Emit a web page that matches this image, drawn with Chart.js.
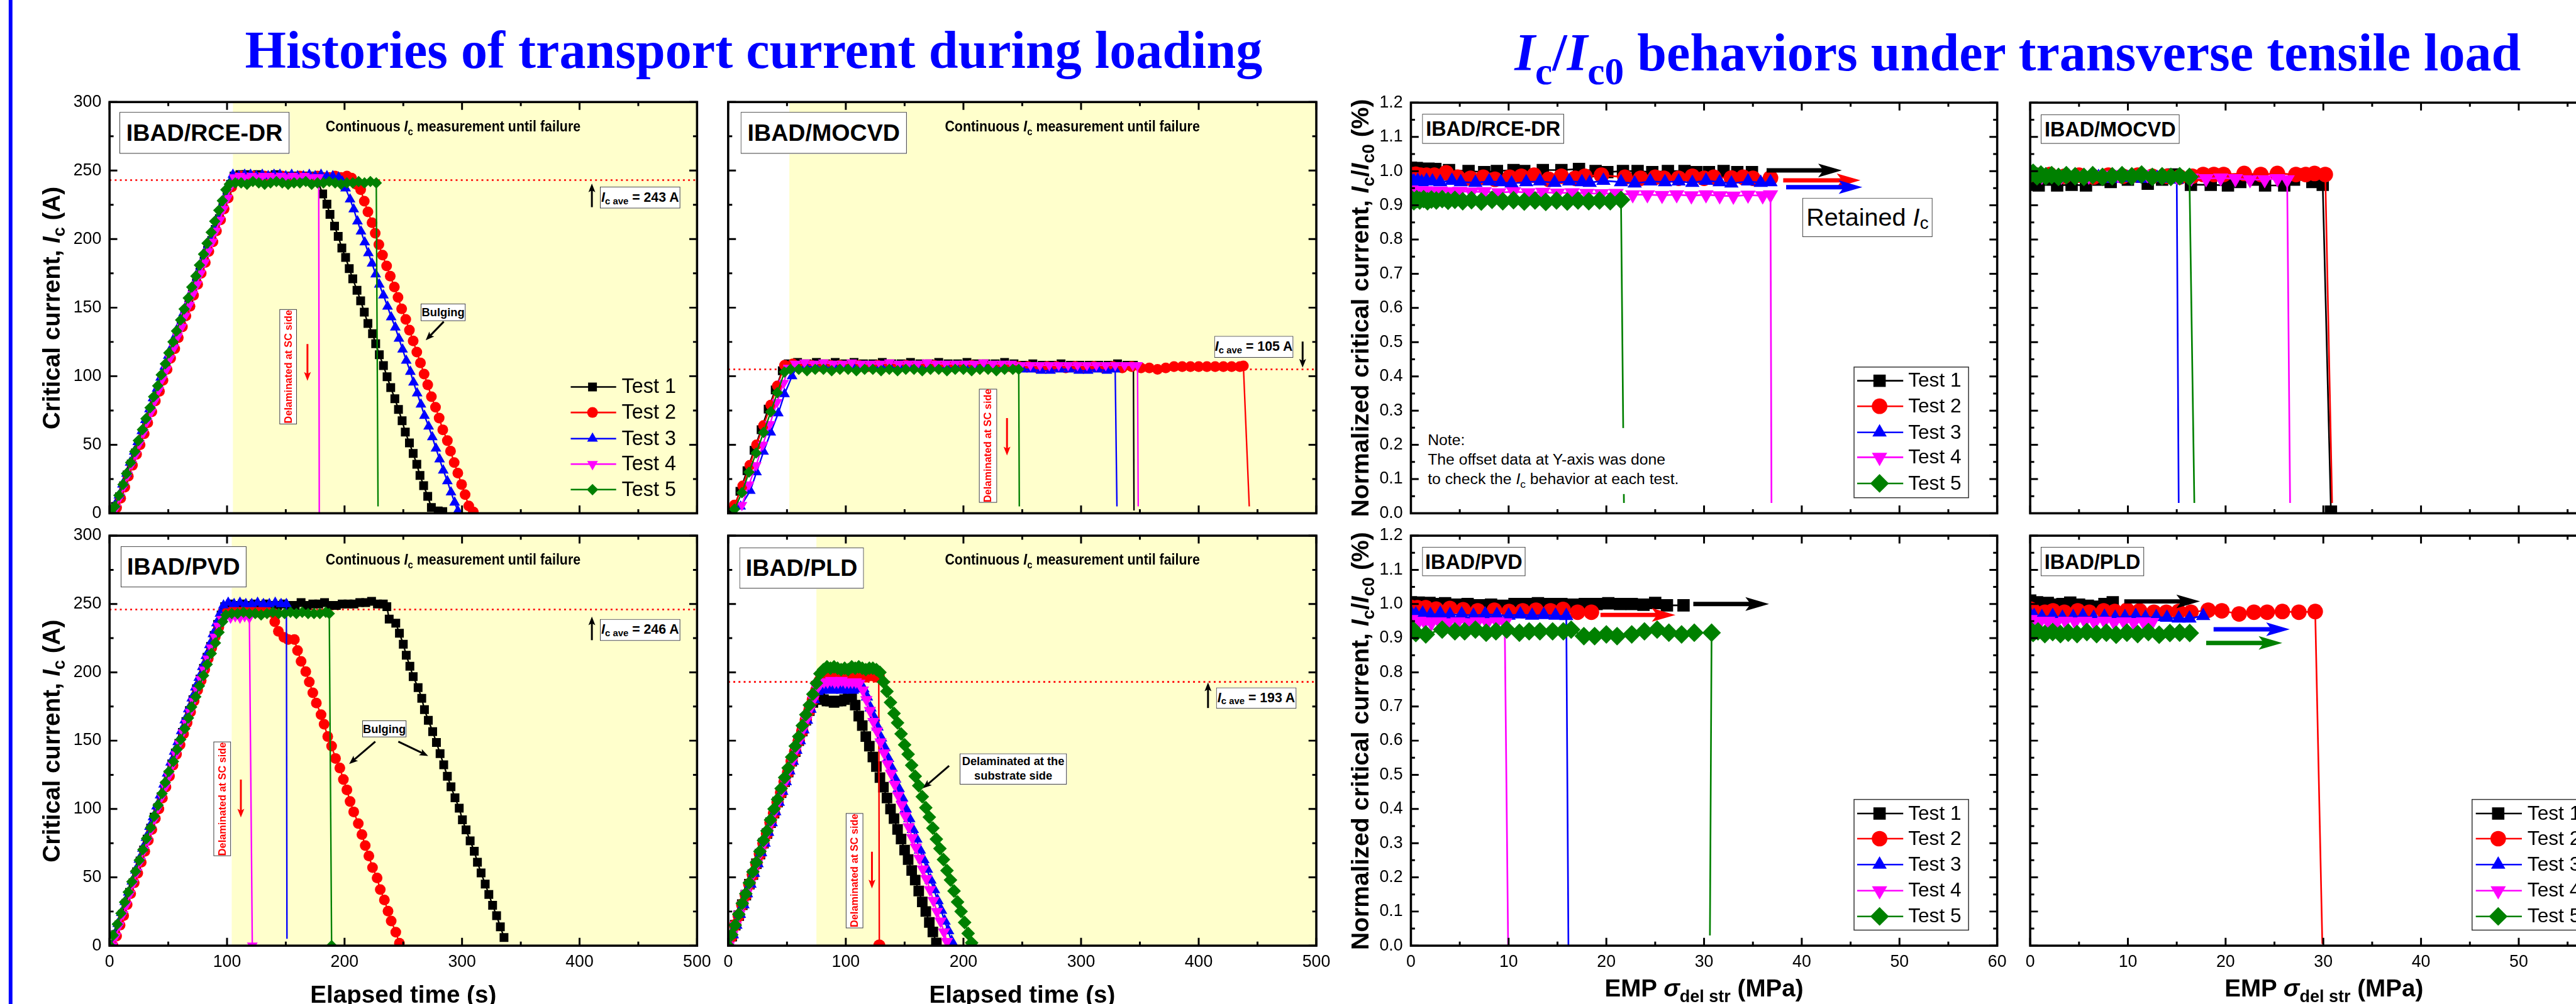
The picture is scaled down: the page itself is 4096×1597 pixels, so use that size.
<!DOCTYPE html>
<html><head><meta charset="utf-8">
<script src="https://cdn.jsdelivr.net/npm/chart.js"></script>
<style>
html,body{margin:0;padding:0;background:#fff;}
body{width:4096px;height:1597px;overflow:hidden;position:relative;}
canvas{position:absolute;}
#ov{position:absolute;left:0;top:0;width:4139px;height:1614px;transform:scale(0.989611);transform-origin:0 0;font-family:'Liberation Sans',Arial,Helvetica,sans-serif;color:#000;pointer-events:none;z-index:5;}
#ov div{position:absolute;white-space:nowrap;}
.tb{box-sizing:border-box;border:1.5px solid #3a3a3a;background:#fff;display:flex;align-items:center;justify-content:center;font-weight:bold;}
.tx{line-height:1;}
.c{transform-origin:50% 0;}
.sb{font-size:.7em;position:relative;top:.33em;}
.vr{writing-mode:vertical-rl;transform:rotate(180deg);color:#f00;font-weight:bold;font-size:16.5px;}
.tt{font:bold 85px 'Liberation Serif','Times New Roman',serif;color:#0000ff;}
.ts{font-size:62px;position:relative;top:22px;}
</style></head>
<body>
<div id="ov">
<div style="left:14px;top:0;width:5.5px;height:1614px;background:#0000ff"></div>
<div class="tx tt" style="left:1211px;top:30.8px;transform:translateX(-50%)">Histories of transport current during loading</div>
<div class="tx tt" style="left:3242px;top:34.8px;transform:translateX(-50%)"><i>I</i><span class="ts">c</span>/<i>I</i><span class="ts">c0</span> behaviors under transverse tensile load</div>

<div class="tx" style="left:82px;top:494.5px;transform:translate(-50%,-50%) rotate(-90deg);font-weight:bold;font-size:39px">Critical current, <i>I</i><span class="sb">c</span> (A)</div>
<div class="tx" style="left:82px;top:1190.5px;transform:translate(-50%,-50%) rotate(-90deg);font-weight:bold;font-size:39px">Critical current, <i>I</i><span class="sb">c</span> (A)</div>
<div class="tx" style="left:2186px;top:495px;transform:translate(-50%,-50%) rotate(-90deg);font-weight:bold;font-size:39.5px">Normalized critical current, <i>I</i><span class="sb">c</span>/<i>I</i><span class="sb">c0</span> (%)</div>
<div class="tx" style="left:2186px;top:1190.5px;transform:translate(-50%,-50%) rotate(-90deg);font-weight:bold;font-size:39.5px">Normalized critical current, <i>I</i><span class="sb">c</span>/<i>I</i><span class="sb">c0</span> (%)</div>
<div class="tx" style="left:648px;top:1579px;transform:translateX(-50%);font-weight:bold;font-size:39px">Elapsed time (s)</div>
<div class="tx" style="left:1642.5px;top:1579px;transform:translateX(-50%);font-weight:bold;font-size:39px">Elapsed time (s)</div>
<div class="tx" style="left:2738px;top:1569px;transform:translateX(-50%);font-weight:bold;font-size:39px">EMP <i>σ</i><span class="sb">del str</span> (MPa)</div>
<div class="tx" style="left:3734px;top:1569px;transform:translateX(-50%);font-weight:bold;font-size:39px">EMP <i>σ</i><span class="sb">del str</span> (MPa)</div>

<div class="tb" style="left:192px;top:180px;width:273px;height:67px;font-size:38px">IBAD/RCE-DR</div>
<div class="tb" style="left:1190px;top:180px;width:267px;height:67px;font-size:38px">IBAD/MOCVD</div>
<div class="tb" style="left:194px;top:878px;width:202px;height:66px;font-size:38px">IBAD/PVD</div>
<div class="tb" style="left:1188px;top:880px;width:200px;height:66px;font-size:38px">IBAD/PLD</div>
<div class="tb" style="left:2285px;top:183px;width:228px;height:48px;font-size:32.7px">IBAD/RCE-DR</div>
<div class="tb" style="left:3279px;top:184px;width:223px;height:47px;font-size:32.7px">IBAD/MOCVD</div>
<div class="tb" style="left:2285px;top:879px;width:166px;height:47px;font-size:32.7px">IBAD/PVD</div>
<div class="tb" style="left:3279px;top:879px;width:166px;height:47px;font-size:32.7px">IBAD/PLD</div>

<div class="tx c" style="left:728px;top:192.4px;font-weight:bold;font-size:23.5px;transform:translateX(-50%) scaleX(.92)">Continuous <i>I</i><span class="sb">c</span> measurement until failure</div>
<div class="tx c" style="left:1723px;top:192.4px;font-weight:bold;font-size:23.5px;transform:translateX(-50%) scaleX(.92)">Continuous <i>I</i><span class="sb">c</span> measurement until failure</div>
<div class="tx c" style="left:728px;top:888.1px;font-weight:bold;font-size:23.5px;transform:translateX(-50%) scaleX(.92)">Continuous <i>I</i><span class="sb">c</span> measurement until failure</div>
<div class="tx c" style="left:1723px;top:888.1px;font-weight:bold;font-size:23.5px;transform:translateX(-50%) scaleX(.92)">Continuous <i>I</i><span class="sb">c</span> measurement until failure</div>

<div class="tb" style="left:964px;top:300px;width:129px;height:35px;font-size:21.5px"><i>I</i><span class="sb">c ave</span>&nbsp;= 243 A</div>
<div class="tb" style="left:1951px;top:540px;width:127px;height:35px;font-size:21.5px"><i>I</i><span class="sb">c ave</span>&nbsp;= 105 A</div>
<div class="tb" style="left:964px;top:995px;width:129px;height:35px;font-size:21.5px"><i>I</i><span class="sb">c ave</span>&nbsp;= 246 A</div>
<div class="tb" style="left:1954px;top:1105px;width:129px;height:34px;font-size:21.5px"><i>I</i><span class="sb">c ave</span>&nbsp;= 193 A</div>

<div class="tb" style="left:676px;top:488px;width:72px;height:28px;font-size:18.5px">Bulging</div>
<div class="tb" style="left:582px;top:1158px;width:71px;height:27px;font-size:18.5px">Bulging</div>
<div class="tb" style="left:1542px;top:1211px;width:172px;height:50px;font-size:18.5px;flex-direction:column;line-height:22.8px"><span>Delaminated at the</span><span>substrate side</span></div>

<div class="tb" style="left:449px;top:497px;width:28px;height:185px"><span class="vr">Delaminated at SC side</span></div>
<div class="tb" style="left:1573px;top:625px;width:29px;height:183px"><span class="vr">Delaminated at SC side</span></div>
<div class="tb" style="left:343px;top:1192px;width:28px;height:184px"><span class="vr">Delaminated at SC side</span></div>
<div class="tb" style="left:1358.5px;top:1307px;width:28px;height:185px"><span class="vr">Delaminated at SC side</span></div>

<div class="tb" style="left:2896px;top:318px;width:209px;height:63px;font-size:40px;font-weight:normal">Retained&nbsp;<i>I</i><span class="sb">c</span></div>
<div style="left:2285px;top:688px;width:415px;height:106px;box-sizing:border-box;padding:3.25px 0 0 9px;background:#fff;font-size:25px;line-height:31.5px;white-space:normal">Note:<br>The offset data at Y-axis was done<br>to check the <i>I</i><span class="sb">c</span> behavior at each test.</div>
</div>

<script>
// ---------------- data ----------------
const testNames = ['Test 1','Test 2','Test 3','Test 4','Test 5'];
const icAve = [243, 105, 246, 193];
const measStart = [105, 52, 104, 75];
const timeAxis = [0, 500, 100, 50];
const currentAxis = [0, 300, 50, 25];
const stressAxis = [0, 60, 10, 5];
const ratioAxis = [0, 1.2, 0.1, 0.05];

// IBAD/RCE-DR : elapsed time (s), Ic (A)
const p1T1 = [[2,0],[5,5],[8.5,12],[12,20],[15,28],[18.5,36],[22,44],[25,51],[28.5,59],[31.5,67],[35,75],[38,83],[41.5,90],[44.5,98],[48,106],[51,114],[54.5,121],[57.5,129],[61,137],[64,145],[67.5,152],[70.5,160],[74,168],[77,176],[80.5,184],[83.5,192],[87,199],[90,207],[93.5,215],[96.5,223],[100,231],[103,240],[106,246],[111,247],[116,247],[121,246],[126,247],[131,246],[136,246],[141,247],[146,246],[151,246],[156,246],[161,245],[166,246],[171,246],[176,245],[181.4,233],[185,225.5],[187.6,218],[191.5,209.5],[194.6,202],[197.7,193.5],[200.9,186.6],[204,178.5],[207,171],[210.6,162.7],[213.7,155],[216.8,146.7],[219.9,138.5],[223.8,131],[226.5,123.7],[229.6,115.6],[233.1,107.7],[236.2,99.6],[239.3,91.7],[242.8,83.6],[245.9,75.7],[249,67.5],[251.7,59.2],[255.2,51.3],[258.4,43.6],[261.5,35.7],[264.2,27.6],[267.3,20.2],[270.8,12.3],[273.9,4.2],[279.7,1.7],[283.6,1.2]];
const p1T2 = [[3,0],[6,4],[9.5,11],[13,19],[16,27],[19.5,35],[23,43],[26,50],[29.5,58],[32.5,66],[36,74],[39,82],[42.5,89],[45.5,97],[49,105],[52,113],[55.5,120],[58.5,128],[62,136],[65,144],[68.5,151],[71.5,159],[75,167],[78,175],[81.5,183],[84.5,191],[88,198],[91,206],[94.5,214],[97.5,222],[101,230],[104,238],[107,245],[112,246],[117,245],[122,246],[127,245],[132,246],[137,245],[142,245],[147,246],[152,245],[157,245],[162,246],[167,245],[172,245],[177,246],[182,245],[187,245],[192,246],[197,245],[202,246],[206,244.5],[210,240],[213.7,236],[216.8,227.7],[219.9,219.9],[223.4,212],[226.1,204.3],[229.2,196],[232.3,188.3],[235.8,180.4],[238.9,173],[242.4,165.1],[245.5,157.5],[248.6,149.1],[252.1,141.5],[255.2,133.6],[258.4,125.7],[261.5,117.6],[264.6,109.7],[267.7,101.6],[270.8,93.7],[273.9,85],[277.4,77.4],[280.5,69.5],[283.6,60.9],[287.5,53],[290.2,45.4],[293.3,37],[296.4,29.3],[299.6,21],[302.6,13.6],[305.7,5.4],[309.6,1]];
const p1T3 = [[1.5,0],[4.5,6],[8,13],[11,21],[14.5,29],[17.5,37],[21,45],[24,52],[27.5,60],[30.5,68],[34,76],[37,84],[40.5,91],[43.5,99],[47,107],[50,115],[53.5,122],[56.5,130],[60,138],[63,146],[66.5,153],[69.5,161],[73,169],[76,177],[79.5,185],[82.5,193],[86,200],[89,208],[92.5,216],[95.5,224],[99,232],[102,241],[105,247],[110,246],[115,247],[120,247],[125,246],[130,247],[135,246],[140,247],[145,247],[150,246],[155,247],[160,246],[165,246],[170,247],[175,246],[180,247],[185,246],[190,246],[195,245],[198,242],[200.9,237],[204.7,229],[207.8,221.8],[211,213],[214,205.6],[217.2,197.7],[220.3,189.8],[223.4,182.2],[226.5,174.3],[229.6,166.9],[233.1,159],[236.6,150.8],[239.7,143],[243.2,135.6],[246.3,127.4],[249.4,119.5],[252.5,111.4],[256,103.3],[258.7,95.4],[261.8,87.5],[265,79.4],[268,71.2],[271.6,63.3],[274.7,55.5],[277.8,47.3],[280.9,39.4],[284,31.3],[287.5,23.4],[290.6,15.3],[293.7,7.9],[296.4,1.7]];
const p1T4 = [[2.5,0],[5.5,4],[9,12],[12.5,20],[15.5,28],[19,36],[22.5,43],[25.5,51],[29,59],[32,67],[35.5,74],[38.5,82],[42,90],[45,98],[48.5,105],[51.5,113],[55,121],[58,129],[61.5,136],[64.5,144],[68,152],[71,160],[74.5,167],[77.5,175],[81,183],[84,191],[87.5,198],[90.5,206],[94,214],[97,222],[100.5,230],[103.5,239],[106,245],[111,246],[116,245],[121,246],[126,245],[131,246],[136,246],[141,245],[146,246],[151,245],[156,246],[161,245],[166,246],[171,245],[176,245],[178,245],[178.5,0]];
const p1T5 = [[2,0],[4.5,5],[8,13],[11.5,21],[14.5,29],[18,37],[21.5,45],[24.5,53],[28,61],[31,69],[34.5,77],[37.5,85],[41,93],[44,101],[47.5,109],[50.5,117],[54,125],[57,133],[60.5,141],[63.5,149],[67,157],[70,165],[73.5,173],[76.5,181],[80,189],[83,197],[86.5,205],[89.5,213],[93,221],[96,228],[99,236],[102,240],[107,241],[112,241],[117,240],[122,242],[127,241],[132,240],[137,241],[142,242],[147,241],[152,240],[157,241],[162,241],[167,242],[172,240],[177,241],[182,241],[187,242],[192,241],[197,240],[202,241],[207,241],[212,242],[217,241],[222,242],[227,241],[228.5,5]];

// IBAD/MOCVD
const p2T1 = [[4,2],[10,16],[16,31],[22,46],[28,61],[34,76],[40,90],[46,104],[51,109],[59,110],[67,109],[75,110],[83,109],[91,110],[99,109],[107,110],[115,109],[123,109],[131,110],[139,109],[147,109],[155,110],[163,109],[171,109],[179,110],[187,109],[195,109],[203,110],[211,109],[219,109],[227,109],[235,110],[243,109],[251,108],[259,109],[267,108],[275,108],[283,109],[291,108],[299,108],[307,108],[315,108],[323,108],[331,109],[339,108],[344.5,108],[345,2]];
const p2T2 = [[5.3,6],[12.4,20],[18.4,35],[24.1,50],[30.1,64],[36.2,79],[41.8,93],[47.9,108],[55,109],[63,108],[71,108],[79,107],[87,108],[95,108],[103,107],[111,108],[119,107],[127,108],[135,107],[143,107],[151,108],[159,107],[167,107],[175,108],[183,107],[191,107],[199,107],[207,108],[215,107],[223,107],[231,107],[239,107],[247,107],[255,107],[263,106],[271,107],[279,107],[287,106],[295,107],[303,106],[311,107],[319,106],[327,107],[335,106],[343,107],[351,106],[358,106],[365,105],[372,106],[379,107],[386,107],[393,107],[400,107],[407,107],[414,107],[421,107],[428,107],[435,107],[438,107.5],[443,5]];
const p2T3 = [[10.6,5],[18.8,16.5],[24.1,30],[30.1,45],[36.2,59],[42.6,73],[47.9,87],[54.3,100],[58,106],[66,107],[74,107],[82,106],[90,107],[98,106],[106,107],[114,106],[122,106],[130,107],[138,106],[146,106],[154,106],[162,106],[170,106],[178,106],[186,106],[194,106],[202,106],[210,106],[218,106],[226,106],[234,106],[242,106],[250,105],[258,105],[266,104],[274,104],[282,105],[290,105],[298,104],[306,104],[314,105],[322,104],[329,105],[330.5,5]];
const p2T4 = [[11.7,6],[17.7,21],[23.8,35],[29.4,50],[35.5,65],[41.5,81],[47.2,95],[51,106],[57,109],[65,110],[73,109],[81,110],[89,109],[97,109],[105,110],[113,109],[121,109],[129,109],[137,110],[145,109],[153,109],[161,109],[169,110],[177,109],[185,109],[193,109],[201,109],[209,109],[217,110],[225,109],[233,109],[241,109],[249,108],[257,108],[265,108],[273,108],[281,108],[289,108],[297,108],[305,108],[313,108],[321,108],[329,108],[337,108],[344,108],[348,108],[348.6,5]];
const p2T5 = [[5.3,3],[11.7,15],[17.7,30],[23.8,44],[30.1,59],[36.2,74],[41.8,88],[47.9,103],[53,105],[60,105],[67,104],[74,105],[81,105],[88,104],[95,105],[102,105],[109,104],[116,105],[123,105],[130,104],[137,105],[144,104],[151,105],[158,105],[165,104],[172,105],[179,105],[186,104],[193,105],[200,105],[207,104],[214,105],[221,105],[228,104],[235,105],[242,105],[247,105],[247.5,5]];

// IBAD/PVD
const p3T1 = [[2,0],[5,8],[8,15],[11,23],[14,31],[17,39],[20,46],[23,54],[26,62],[29,70],[32,78],[35,86],[38,94],[41,101],[44,109],[47,117],[50,125],[53,133],[56,141],[59,148],[62,156],[65,164],[68,172],[71,180],[74,188],[77,195],[80,203],[83,211],[86,219],[89,227],[92,235],[95,242],[98,248],[103,250],[108,249],[113,250],[118,249],[123,250],[128,249],[133,250],[138,249],[143,249],[148,250],[153,249],[158,249],[163,251],[168,249],[173,250],[178,250],[183,251],[188,249],[193,249],[198,250],[203,250],[208,250],[213,251],[218,251],[223,252],[228,250],[233,250],[236,248],[238,239],[243.6,236],[246.7,228.6],[250,220.6],[252.5,212.5],[255.6,204.5],[258.4,196.9],[262.6,188.8],[265.7,181],[268,172.7],[271.3,164.9],[275,156.6],[278.2,148.7],[281.3,140.5],[284.4,132.4],[287.5,123.9],[290.6,116.3],[294,108.2],[297.6,100.6],[300.3,92.1],[303.4,84.7],[306.9,76.7],[310.4,69.1],[313.1,61],[316.2,53.2],[319.7,45.1],[322.8,37.5],[326,29.5],[329.4,21.9],[332.6,13.8],[335.7,6]];
const p3T2 = [[3,0],[6,7],[9,15],[12,22],[15,30],[18,38],[21,46],[24,53],[27,61],[30,69],[33,77],[36,85],[39,93],[42,100],[45,108],[48,116],[51,124],[54,132],[57,140],[60,147],[63,155],[66,163],[69,171],[72,179],[75,187],[78,194],[81,202],[84,210],[87,218],[90,226],[93,233],[96,240],[100,244],[105,245],[110,244],[115,245],[120,245],[125,244],[130,245],[135,244],[140,243],[140.6,237],[143.7,230],[148.4,225.6],[152,224],[157.3,224],[160,216],[163,208],[167,200.5],[170,193],[173,185],[176,177.5],[180,169],[182.6,162],[185.7,153],[189,146],[192.3,137],[196,130],[199,121.6],[202,114],[204.7,105.5],[207.8,97.9],[211.7,89.3],[214.8,81.3],[217.6,73.2],[220.7,65.6],[223.8,57.1],[227.7,49.5],[230.4,41],[233.9,33.4],[237,25.3],[239.7,18],[243.6,9.9],[246.7,1.8]];
const p3T3 = [[1,0],[4,8],[7,16],[10,24],[13,32],[16,39],[19,47],[22,55],[25,63],[28,71],[31,79],[34,87],[37,94],[40,102],[43,110],[46,118],[49,126],[52,134],[55,142],[58,149],[61,157],[64,165],[67,173],[70,181],[73,189],[76,196],[79,204],[82,212],[85,220],[88,228],[91,236],[94,243],[97,249],[101,251],[106,250],[111,251],[116,250],[121,250],[126,251],[131,250],[136,250],[141,251],[146,250],[150.5,250],[151,5]];
const p3T4 = [[2.5,0],[5.5,7],[8.5,15],[11.5,23],[14.5,30],[17.5,38],[20.5,46],[23.5,54],[26.5,62],[29.5,70],[32.5,77],[35.5,85],[38.5,93],[41.5,101],[44.5,109],[47.5,116],[50.5,124],[53.5,132],[56.5,140],[59.5,148],[62.5,156],[65.5,163],[68.5,171],[71.5,179],[74.5,187],[77.5,195],[80.5,202],[83.5,210],[86.5,218],[89.5,226],[92.5,234],[95.5,239],[99,241],[103,240],[107,241],[111,240],[115,241],[119,240],[121.5,0]];
const p3T5 = [[0.5,0],[3.1,7.6],[6.6,15.7],[9.7,23.7],[12.8,31.8],[15.9,39.2],[19,46.8],[22.1,54.4],[25.3,62.5],[28.4,70.3],[31.5,78.4],[35,86.4],[38.1,94.7],[41.3,102.8],[44.7,111.3],[47.4,119.4],[50.5,127.4],[54.4,134.8],[57.5,143.6],[60.6,150.9],[64.1,158.8],[67.2,166.6],[69.9,174.7],[73.4,182.1],[76.5,190.1],[80,197.7],[83.1,205.8],[86.6,213.8],[90.1,221.5],[93.2,229.3],[96.3,237.1],[99,242],[104,243],[109,243],[114,244],[119,243],[124,243],[129,242],[134,243],[139,244],[144,243],[149,243],[154,244],[159,243],[164,244],[169,243],[174,243],[179,243],[184,244],[187,243],[189,0]];

// IBAD/PLD
const p4T1 = [[0,0],[3,7],[6,15],[9,22],[12,30],[15,37],[18,45],[21,52],[24,60],[27,67],[30,75],[33,82],[36,90],[39,97],[42,105],[45,112],[48,120],[51,127],[54,135],[57,142],[60,150],[63,157],[66,165],[69,172],[72,178],[75,181],[78,181],[81,180],[84,179],[87,179],[90,178],[93,179],[96,179],[99,180],[102,182],[105,183],[108,176],[111,168],[114,161],[117,153],[120,146],[123,138],[126,131],[129,123],[132,116],[135,108],[138,100],[141,93],[144,85],[147,78],[150,70],[153,63],[156,55],[159,48],[162,40],[165,32],[168,25],[171,17],[174,10],[177,2]];
const p4T2 = [[0,0],[3,7],[6,15],[9,22],[12,30],[15,37],[18,45],[21,52],[24,60],[27,67],[30,75],[33,82],[36,90],[39,97],[42,105],[45,112],[48,120],[51,127],[54,135],[57,142],[60,150],[63,157],[66,165],[69,172],[72,180],[75,187],[78,194],[81,197],[84,198],[87,198],[90,197],[93,198],[96,199],[99,198],[102,197],[105,198],[108,198],[111,199],[114,198],[117,197],[120,198],[123,198],[126,197],[128,197],[128.5,0]];
const p4T3 = [[1,0],[4,8],[7,15],[10,23],[13,30],[16,38],[19,45],[22,53],[25,60],[28,68],[31,75],[34,83],[37,90],[40,98],[43,105],[46,113],[49,120],[52,128],[55,135],[58,143],[61,150],[64,158],[67,165],[70,173],[73,180],[76,186],[79,187],[82,188],[85,188],[88,187],[91,188],[94,188],[97,187],[100,188],[103,188],[106,187],[109,188],[112,188],[115,188],[118,182],[121,174],[124,167],[127,160],[130,152],[133,145],[136,137],[139,130],[142,122],[145,115],[148,108],[151,100],[154,93],[157,85],[160,78],[163,70],[166,63],[169,56],[172,48],[175,41],[178,33],[181,26],[184,18],[187,11],[190,3]];
const p4T4 = [[0.5,0],[3.5,8],[6.5,15],[9.5,23],[12.5,30],[15.5,38],[18.5,45],[21.5,53],[24.5,60],[27.5,68],[30.5,75],[33.5,83],[36.5,90],[39.5,98],[42.5,105],[45.5,113],[48.5,120],[51.5,128],[54.5,135],[57.5,143],[60.5,150],[63.5,158],[66.5,165],[69.5,173],[72.5,180],[75.5,188],[78.5,192],[81.5,193],[84.5,193],[87.5,194],[90.5,193],[93.5,193],[96.5,194],[99.5,193],[102.5,193],[105.5,193],[108.5,193],[111.5,192],[114.5,187],[117.5,180],[120.5,172],[123.5,164],[126.5,157],[129.5,149],[132.5,141],[135.5,133],[138.5,126],[141.5,118],[144.5,110],[147.5,103],[150.5,95],[153.5,87],[156.5,79],[159.5,72],[162.5,64],[165.5,56],[168.5,49],[171.5,41],[174.5,33],[177.5,25],[180.5,18],[183.5,10],[186,3]];
const p4T5 = [[0,0],[3,8],[6,15],[9,23],[12,31],[15,38],[18,46],[21,54],[24,61],[27,69],[30,77],[33,84],[36,92],[39,100],[42,107],[45,115],[48,123],[51,130],[54,138],[57,146],[60,153],[63,161],[66,169],[69,176],[72,184],[75,192],[78,199],[81,202],[84,204],[87,203],[90,204],[93,203],[96,202],[99,203],[102,202],[105,204],[108,203],[111,204],[114,203],[117,202],[120,203],[123,203],[126,202],[129,200],[132,193],[135,186],[138,178],[141,170],[144,163],[147,155],[150,147],[153,140],[156,132],[159,124],[162,117],[165,109],[168,101],[171,94],[174,86],[177,78],[180,71],[183,63],[186,55],[189,48],[192,40],[195,32],[198,25],[201,17],[204,9],[207,2]];

// Normalized Ic/Ic0 vs EMP stress (MPa)
const n1T1 = [[0,1.01],[0.3,1.004],[0.6,1.009],[1.2,1.004],[1.8,1.007],[2.5,1.006],[3.9,1.003],[5.9,1.0],[7.5,0.997],[8.8,1.0],[10.5,1.003],[11.6,1.0],[13.5,1.003],[15.4,1.003],[17.2,1.006],[18.9,1.0],[20.1,0.997],[21.7,1.0],[23.2,1.0],[24.7,0.997],[26.3,1.0],[28,1.0],[29.2,0.997],[30.5,0.997],[32,1.0],[33.4,0.997],[34.9,0.997]];
const n1T2 = [[0,0.99],[0.5,0.991],[1.0,0.988],[1.6,0.988],[2.4,0.988],[3.6,0.995],[4.8,0.982],[6.1,0.979],[7.4,0.982],[8.6,0.976],[10.1,0.982],[11.3,0.985],[12.6,0.988],[14.1,0.976],[15.4,0.985],[16.8,0.979],[17.8,0.985],[19.5,0.988],[21.9,0.982],[23.5,0.979],[25,0.982],[25.9,0.979],[27.4,0.979],[28.8,0.985],[30,0.979],[31,0.982],[32.8,0.98],[34,0.982],[35,0.979],[36.8,0.98]];
const n1T3 = [[0,0.975],[0.3,0.97],[0.7,0.972],[1.1,0.968],[1.6,0.972],[2.2,0.97],[3,0.968],[4.2,0.972],[5.1,0.968],[6.6,0.966],[8,0.97],[9.2,0.968],[10.3,0.964],[11.8,0.968],[13.2,0.97],[14.7,0.966],[16.2,0.97],[17.5,0.968],[18.3,0.966],[19.7,0.972],[21.5,0.968],[22.9,0.964],[24.5,0.97],[26,0.968],[27.4,0.97],[28.8,0.966],[30.2,0.972],[31.6,0.968],[32.8,0.964],[34.5,0.97],[35.8,0.966],[36.8,0.968]];
const n1T4 = [[0,0.945],[0.4,0.942],[0.9,0.94],[1.5,0.943],[2.2,0.94],[3,0.942],[4,0.94],[5,0.941],[6.2,0.939],[7.5,0.94],[9,0.937],[10.5,0.94],[12,0.937],[13.5,0.938],[15,0.936],[16.5,0.937],[18,0.935],[19.5,0.934],[21,0.935],[22.7,0.931],[24.2,0.931],[25.7,0.929],[27.2,0.931],[28.7,0.928],[30.2,0.931],[31.6,0.928],[33,0.927],[34.5,0.93],[36,0.928],[36.8,0.931],[36.9,0.03]];
const n1T5 = [[0,0.92],[0.3,0.912],[0.6,0.918],[0.9,0.914],[1.3,0.918],[1.7,0.912],[2.1,0.917],[2.6,0.914],[3.2,0.918],[3.8,0.913],[4.5,0.916],[5.3,0.912],[6.2,0.915],[7.2,0.911],[8.3,0.916],[9.4,0.912],[10.5,0.915],[11.6,0.911],[12.7,0.914],[13.8,0.91],[14.9,0.914],[16,0.911],[17.1,0.914],[18.2,0.912],[19.3,0.914],[20.4,0.912],[21.5,0.916],[21.8,0.03]];

const n2T1 = [[0,0.985],[0.5,0.96],[0.87,0.958],[1.8,0.975],[2.76,0.958],[4.24,0.96],[5.71,0.958],[7,0.975],[8.24,0.968],[10,0.975],[12.03,0.963],[13.5,0.975],[14.56,0.99],[16.45,0.96],[18.48,0.96],[20.24,0.958],[21.5,0.968],[23,0.975],[24.04,0.958],[26,0.958],[27,0.975],[28.04,0.99],[28.88,0.968],[29.94,0.96],[30.78,0.005]];
const n2T2 = [[0,0.99],[1,0.988],[2,0.99],[3.5,0.985],[5,0.988],[6.5,0.983],[8,0.988],[9.5,0.985],[11,0.988],[12.5,0.985],[14,0.985],[15.3,0.983],[16.6,0.985],[17.7,0.99],[18.8,0.99],[19.8,0.99],[21.9,0.993],[23.6,0.99],[25.3,0.993],[27.2,0.99],[28.2,0.99],[29.1,0.993],[30.2,0.99],[30.9,0.03]];
const n2T3 = [[0,0.99],[0.4,0.985],[1,0.983],[2,0.985],[3,0.98],[4,0.983],[5.5,0.98],[7,0.983],[8.5,0.978],[10,0.98],[11.5,0.978],[13,0.98],[14.2,0.978],[15,0.975],[15.2,0.03]];
const n2T4 = [[0,0.995],[0.5,0.99],[1.2,0.985],[2.2,0.99],[3.2,0.985],[4.5,0.988],[6,0.985],[7.5,0.988],[9,0.99],[10.5,0.988],[12,0.99],[13.5,0.985],[15,0.985],[16.5,0.98],[18,0.978],[19.5,0.98],[21,0.978],[22.5,0.975],[24,0.975],[25.3,0.978],[26.3,0.975],[26.6,0.03]];
const n2T5 = [[0,0.99],[0.3,0.995],[0.7,0.985],[1.1,0.99],[1.6,0.985],[2.2,0.988],[2.9,0.983],[3.7,0.988],[4.6,0.985],[5.5,0.983],[6.4,0.988],[7.4,0.983],[8.4,0.985],[9.4,0.988],[10.4,0.985],[11.4,0.99],[12.5,0.983],[13.5,0.985],[14.4,0.983],[15.3,0.985],[16.3,0.983],[16.8,0.03]];

const n3T1 = [[0,1.005],[0.4,1.0],[0.8,1.004],[1.3,1.0],[1.9,1.003],[2.6,1.0],[3.5,1.002],[4.6,0.998],[5.8,1.0],[7,0.996],[8.2,0.998],[9.4,0.995],[10.6,1.0],[11.8,1.0],[13,1.002],[14.2,1.0],[15.4,1.0],[16.6,0.998],[17.8,1.0],[19,1.0],[20.2,1.002],[21.4,1.0],[22.6,1.0],[23.8,0.998],[25,1.003],[26.2,0.996],[27.9,0.996]];
const n3T2 = [[0,0.99],[0.67,0.989],[1.52,0.989],[2.58,0.985],[3.99,0.987],[5.35,0.983],[6.84,0.98],[8.54,0.982],[10.04,0.978],[11.44,0.98],[12.8,0.982],[14.29,0.98],[15.57,0.984],[17.06,0.976],[18.47,0.976]];
const n3T3 = [[0,0.975],[0.5,0.97],[1.2,0.972],[2,0.968],[3,0.972],[4,0.968],[5.2,0.97],[6.4,0.966],[7.6,0.97],[8.8,0.968],[10,0.966],[11.2,0.97],[12.4,0.966],[13.6,0.968],[14.8,0.966],[15.9,0.965],[16.12,0]];
const n3T4 = [[0,0.955],[0.3,0.945],[0.8,0.95],[1.4,0.948],[2.1,0.945],[2.9,0.948],[3.8,0.945],[4.8,0.948],[5.8,0.945],[6.8,0.948],[7.8,0.945],[8.8,0.948],[9.6,0.945],[9.95,0]];
const n3T5 = [[0,0.93],[0.5,0.915],[1.52,0.911],[3.2,0.925],[4.5,0.92],[5.5,0.92],[6.6,0.925],[7.7,0.916],[8.7,0.92],[9.8,0.925],[11.1,0.916],[12.1,0.92],[13.2,0.92],[14.5,0.92],[15.6,0.92],[16.4,0.925],[17.7,0.906],[18.8,0.906],[20,0.911],[21.1,0.906],[22.6,0.911],[23.9,0.92],[25.2,0.925],[26.4,0.916],[27.7,0.911],[29,0.916],[30.77,0.916],[30.6,0.03]];

const n4T1 = [[0,1.01],[0.3,1.0],[0.7,1.005],[1.2,1.0],[1.8,1.003],[2.5,0.998],[3.3,1.0],[4.1,1.004],[5,0.998],[5.9,0.995],[6.8,0.992],[7.6,1.0],[8.45,1.005]];
const n4T2 = [[0,0.985],[0.31,0.98],[1.5,0.976],[2.34,0.98],[3.5,0.976],[4.87,0.98],[6.05,0.976],[7.52,0.98],[8.66,0.978],[9.92,0.982],[11.2,0.98],[12.66,0.976],[13.93,0.976],[15.19,0.978],[16.45,0.976],[18.22,0.982],[19.61,0.98],[21.38,0.971],[22.9,0.976],[24.25,0.976],[25.81,0.978],[27.5,0.976],[29.17,0.978],[29.9,0.005]];
const n4T3 = [[0,0.97],[0.4,0.965],[1.2,0.962],[2.3,0.965],[3.3,0.96],[4.4,0.962],[5.4,0.965],[6.5,0.96],[7.6,0.963],[8.7,0.96],[9.7,0.962],[10.8,0.965],[11.8,0.96],[12.9,0.962],[14,0.96],[15.2,0.958],[16.3,0.958],[17.7,0.965]];
const n4T4 = [[0,0.955],[0.4,0.95],[1,0.948],[1.8,0.95],[2.7,0.946],[3.6,0.95],[4.6,0.948],[5.6,0.95],[6.6,0.946],[7.6,0.95],[8.6,0.946],[9.6,0.948],[10.6,0.946],[11.6,0.948],[12.45,0.946]];
const n4T5 = [[0,0.925],[0.3,0.915],[0.8,0.92],[1.5,0.912],[2.3,0.918],[3.1,0.912],[3.9,0.916],[4.8,0.912],[5.8,0.918],[6.8,0.912],[7.8,0.916],[8.8,0.91],[9.9,0.916],[11,0.912],[12.1,0.918],[13.2,0.91],[14.3,0.915],[15.3,0.916],[16.33,0.915]];

// retained-Ic arrows: [from stress, to stress, Ic/Ic0 level, test index]
const n1Retained = [[36.4,44.1,1.002,0],[38.1,46.0,0.973,1],[38.4,46.2,0.953,2]];
const n3Retained = [[28.9,36.65,1.0,0],[19.4,27.07,0.968,1]];
const n4Retained = [[9.63,17.38,1.0076,0],[18.77,26.57,0.926,2],[18.01,25.8,0.886,4]];

// ---------------- drawing ----------------
const S = 4096/4139;
const FONT = "'Liberation Sans', Arial, Helvetica, sans-serif";
const COL = ['#000000','#ff0000','#0000ff','#ff00ff','#008000'];
const PST = ['rect','circle','triangle','triangle','rectRot'];
const PROT = [0,0,0,180,0];
const R_LEFT = [10,8.6,10,10,9.2];
const R_PLD = [12,10,11.5,11.5,11];
const R_RIGHT = [14,12.5,13.3,14.2,15];

function drawMarker(ctx,i,r,x,y){
  ctx.save(); ctx.fillStyle=COL[i]; ctx.beginPath();
  if(i===0){const s=r*Math.SQRT1_2; ctx.rect(x-s,y-s,2*s,2*s);}
  else if(i===1){ctx.arc(x,y,r,0,Math.PI*2);}
  else if(i===2||i===3){const d=i===2?1:-1; for(let k=0;k<3;k++){const a=k*2*Math.PI/3; const px=x+Math.sin(a)*r*d, py=y-Math.cos(a)*r*d; if(k) ctx.lineTo(px,py); else ctx.moveTo(px,py);} ctx.closePath();}
  else {ctx.moveTo(x,y-r);ctx.lineTo(x+r,y);ctx.lineTo(x,y+r);ctx.lineTo(x-r,y);ctx.closePath();}
  ctx.fill(); ctx.restore();
}
function arrow(ctx,x1,y1,x2,y2,color,lw,hl,hw){
  const a=Math.atan2(y2-y1,x2-x1), L=Math.hypot(x2-x1,y2-y1);
  ctx.save(); ctx.translate(x1,y1); ctx.rotate(a);
  ctx.strokeStyle=color; ctx.fillStyle=color; ctx.lineWidth=lw;
  ctx.beginPath(); ctx.moveTo(0,0); ctx.lineTo(L-hl*0.7,0); ctx.stroke();
  ctx.beginPath(); ctx.moveTo(L,0); ctx.lineTo(L-hl,-hw/2); ctx.lineTo(L-hl*0.78,0); ctx.lineTo(L-hl,hw/2); ctx.closePath(); ctx.fill();
  ctx.restore();
}

function panel(p){
  const ML=140, MT=16, MR=34, MB=62;
  const [l,t,r,b]=p.box;
  const cl=Math.floor((l-ML)*S), ct=Math.floor((t-MT)*S);
  const cw=Math.ceil((r+MR)*S)-cl, ch=Math.ceil((b+MB)*S)-ct;
  const cv=document.createElement('canvas');
  cv.width=cw; cv.height=ch;
  cv.style.left=cl+'px'; cv.style.top=ct+'px'; cv.style.width=cw+'px'; cv.style.height=ch+'px';
  document.body.appendChild(cv);
  const X=v=>v*S-cl, Y=v=>v*S-ct;
  const yW=X(l), xH=ch-Y(b), padT=Y(t), padR=cw-X(r);
  const datasets=p.series.map((d,i)=>({
    data:d.map(q=>({x:q[0],y:q[1]})), showLine:true,
    borderColor:COL[i], backgroundColor:COL[i], borderWidth:p.lw*S,
    pointStyle:PST[i], pointRotation:PROT[i],
    pointRadius:c=>(p.hide[i]&&c.dataIndex===d.length-1)?0:p.rad[i]*S,
    pointBorderWidth:0, pointHoverRadius:0, pointHitRadius:0,
    pointBackgroundColor:COL[i], pointBorderColor:COL[i],
    order:4-i, tension:0, fill:false
  }));
  const tickFont={family:FONT,size:27*S};
  const zeroPad=s=>{s.paddingLeft=0;s.paddingRight=0;s.paddingTop=0;s.paddingBottom=0;};
  const plug={
    id:'deco',
    beforeDatasetsDraw(chart){
      const ctx=chart.ctx, a=chart.chartArea, xs=chart.scales.x, ys=chart.scales.y;
      if(p.shade!=null){ctx.save();ctx.fillStyle='#ffffcc';const sx=xs.getPixelForValue(p.shade);ctx.fillRect(sx,a.top,a.right-sx,a.bottom-a.top);ctx.restore();}
      if(p.avg!=null){ctx.save();ctx.strokeStyle='#ff0000';ctx.lineWidth=2.6*S;ctx.setLineDash([3*S,5.3*S]);const yy=ys.getPixelForValue(p.avg);ctx.beginPath();ctx.moveTo(a.left,yy);ctx.lineTo(a.right,yy);ctx.stroke();ctx.restore();}
    },
    afterDatasetsDraw(chart){
      const ctx=chart.ctx, a=chart.chartArea, xs=chart.scales.x, ys=chart.scales.y;
      (p.parrows||[]).forEach(q=>arrow(ctx,X(q[0]),Y(q[1]),X(q[2]),Y(q[3]),q[4],3*S,14*S,11*S));
      (p.darrows||[]).forEach(q=>{const yy=ys.getPixelForValue(q[2]);arrow(ctx,xs.getPixelForValue(q[0]),yy,xs.getPixelForValue(q[1]),yy,COL[q[3]],7*S,38*S,22*S);});
      const L=p.leg;
      if(L){
        if(L.box){const [bl,bt,br,bb]=L.box;ctx.save();ctx.fillStyle='#fff';ctx.strokeStyle='#333';ctx.lineWidth=1.5*S;ctx.fillRect(X(bl),Y(bt),(br-bl)*S,(bb-bt)*S);ctx.strokeRect(X(bl),Y(bt),(br-bl)*S,(bb-bt)*S);ctx.restore();}
        L.rows.forEach((ry,i)=>{
          ctx.save();ctx.strokeStyle=COL[i];ctx.lineWidth=2.6*S;ctx.beginPath();ctx.moveTo(X(L.lx[0]),Y(ry));ctx.lineTo(X(L.lx[1]),Y(ry));ctx.stroke();ctx.restore();
          drawMarker(ctx,i,p.rad[i]*S,X(L.mx),Y(ry));
          ctx.save();ctx.fillStyle='#000';ctx.font=(L.fs*S)+'px '+FONT;ctx.textBaseline='middle';ctx.textAlign='left';ctx.fillText(testNames[i],X(L.tx),Y(ry)+1*S);ctx.restore();
        });
      }
      ctx.save();ctx.strokeStyle='#000';ctx.lineWidth=3*S;
      const rx=Math.round(p.xr[2]/p.xr[3]), ry2=Math.round(p.yr[2]/p.yr[3]);
      const nx=Math.round((p.xr[1]-p.xr[0])/p.xr[3]), ny=Math.round((p.yr[1]-p.yr[0])/p.yr[3]);
      for(let k=0;k<=nx;k++){const px=xs.getPixelForValue(p.xr[0]+k*p.xr[3]);const len=(k%rx===0?12.5:6.5)*S;ctx.beginPath();ctx.moveTo(px,a.bottom);ctx.lineTo(px,a.bottom-len);ctx.moveTo(px,a.top);ctx.lineTo(px,a.top+len);ctx.stroke();}
      for(let k=0;k<=ny;k++){const py=ys.getPixelForValue(p.yr[0]+k*p.yr[3]);const len=(k%ry2===0?12.5:6.5)*S;ctx.beginPath();ctx.moveTo(a.left,py);ctx.lineTo(a.left+len,py);ctx.moveTo(a.right,py);ctx.lineTo(a.right-len,py);ctx.stroke();}
      ctx.lineWidth=3.6*S;ctx.strokeRect(a.left,a.top,a.right-a.left,a.bottom-a.top);
      ctx.restore();
    }
  };
  new Chart(cv,{
    type:'scatter',
    data:{datasets},
    options:{
      responsive:false, maintainAspectRatio:false, animation:false, devicePixelRatio:1, events:[],
      layout:{padding:{left:0,top:padT,right:padR,bottom:0}},
      plugins:{legend:{display:false},tooltip:{enabled:false}},
      scales:{
        x:{type:'linear',min:p.xr[0],max:p.xr[1],
          ticks:{display:p.xl,stepSize:p.xr[2],font:tickFont,color:'#000',padding:11*S,maxRotation:0,minRotation:0,autoSkip:false,callback:v=>p.xfix?v.toFixed(p.xfix):String(Math.round(v))},
          grid:{display:false,drawTicks:false},border:{display:false},
          afterFit:s=>{s.height=xH;zeroPad(s);}},
        y:{type:'linear',min:p.yr[0],max:p.yr[1],
          ticks:{display:p.yl,stepSize:p.yr[2],font:tickFont,color:'#000',padding:13*S,autoSkip:false,callback:v=>p.yfix?v.toFixed(p.yfix):String(Math.round(v))},
          grid:{display:false,drawTicks:false},border:{display:false},
          afterFit:s=>{s.width=yW;zeroPad(s);}}
      }
    },
    plugins:[plug]
  });
}

const legLeft={lx:[917,990],mx:952,tx:999,rows:[622,663,705,746,787],fs:32.7};
panel({box:[176,164,1120,825],xr:timeAxis,yr:currentAxis,xl:false,yl:true,series:[p1T1,p1T2,p1T3,p1T4,p1T5],rad:R_LEFT,lw:2.4,hide:[false,false,false,true,true],shade:measStart[0],avg:icAve[0],
  parrows:[[951,333,951,295,'#000'],[494,553,494,612,'#f00'],[713,517,684,547,'#000']],leg:legLeft});
panel({box:[1170,164,2115,825],xr:timeAxis,yr:currentAxis,xl:false,yl:false,series:[p2T1,p2T2,p2T3,p2T4,p2T5],rad:R_LEFT,lw:2.4,hide:[true,true,true,true,true],shade:measStart[1],avg:icAve[1],
  parrows:[[2093,549,2093,591,'#000'],[1618,672,1618,732,'#f00']]});
panel({box:[176,861,1120,1520],xr:timeAxis,yr:currentAxis,xl:true,yl:true,series:[p3T1,p3T2,p3T3,p3T4,p3T5],rad:R_LEFT,lw:2.4,hide:[false,false,true,false,false],shade:measStart[2],avg:icAve[2],
  parrows:[[951,1029,951,991,'#000'],[387,1253,387,1314,'#f00'],[603,1192,561,1228,'#000'],[640,1192,688,1215,'#000']]});
panel({box:[1170,861,2115,1520],xr:timeAxis,yr:currentAxis,xl:true,yl:false,series:[p4T1,p4T2,p4T3,p4T4,p4T5],rad:R_PLD,lw:2.4,hide:[false,false,false,false,false],shade:measStart[3],avg:icAve[3],
  parrows:[[1941,1138,1941,1097,'#000'],[1401,1369,1401,1428,'#f00'],[1525,1231,1483,1267,'#000']]});

panel({box:[2267,165,3209,825],xr:stressAxis,yr:ratioAxis,xl:false,yl:true,yfix:1,series:[n1T1,n1T2,n1T3,n1T4,n1T5],rad:R_RIGHT,lw:2.7,hide:[false,false,false,true,true],darrows:n1Retained,
  leg:{box:[2979,590,3163,800],lx:[2984,3058],mx:3020,tx:3066,rows:[612,653,695,735,777],fs:32}});
panel({box:[3262,165,4204,825],xr:stressAxis,yr:ratioAxis,xl:false,yl:false,yfix:1,series:[n2T1,n2T2,n2T3,n2T4,n2T5],rad:R_RIGHT,lw:2.7,hide:[false,true,true,true,true]});
panel({box:[2267,861,3209,1520],xr:stressAxis,yr:ratioAxis,xl:true,yl:true,yfix:1,series:[n3T1,n3T2,n3T3,n3T4,n3T5],rad:R_RIGHT,lw:2.7,hide:[false,false,true,true,true],darrows:n3Retained,
  leg:{box:[2979,1285,3163,1495],lx:[2984,3058],mx:3020,tx:3066,rows:[1307.6,1348,1389.6,1431.6,1473],fs:32}});
panel({box:[3262,861,4204,1520],xr:stressAxis,yr:ratioAxis,xl:true,yl:false,yfix:1,series:[n4T1,n4T2,n4T3,n4T4,n4T5],rad:R_RIGHT,lw:2.7,hide:[false,true,false,false,false],darrows:n4Retained,
  leg:{box:[3972,1285,4156,1495],lx:[3978,4052],mx:4014,tx:4061,rows:[1307.6,1348,1389.6,1431.6,1473],fs:32}});
</script>
</body></html>
